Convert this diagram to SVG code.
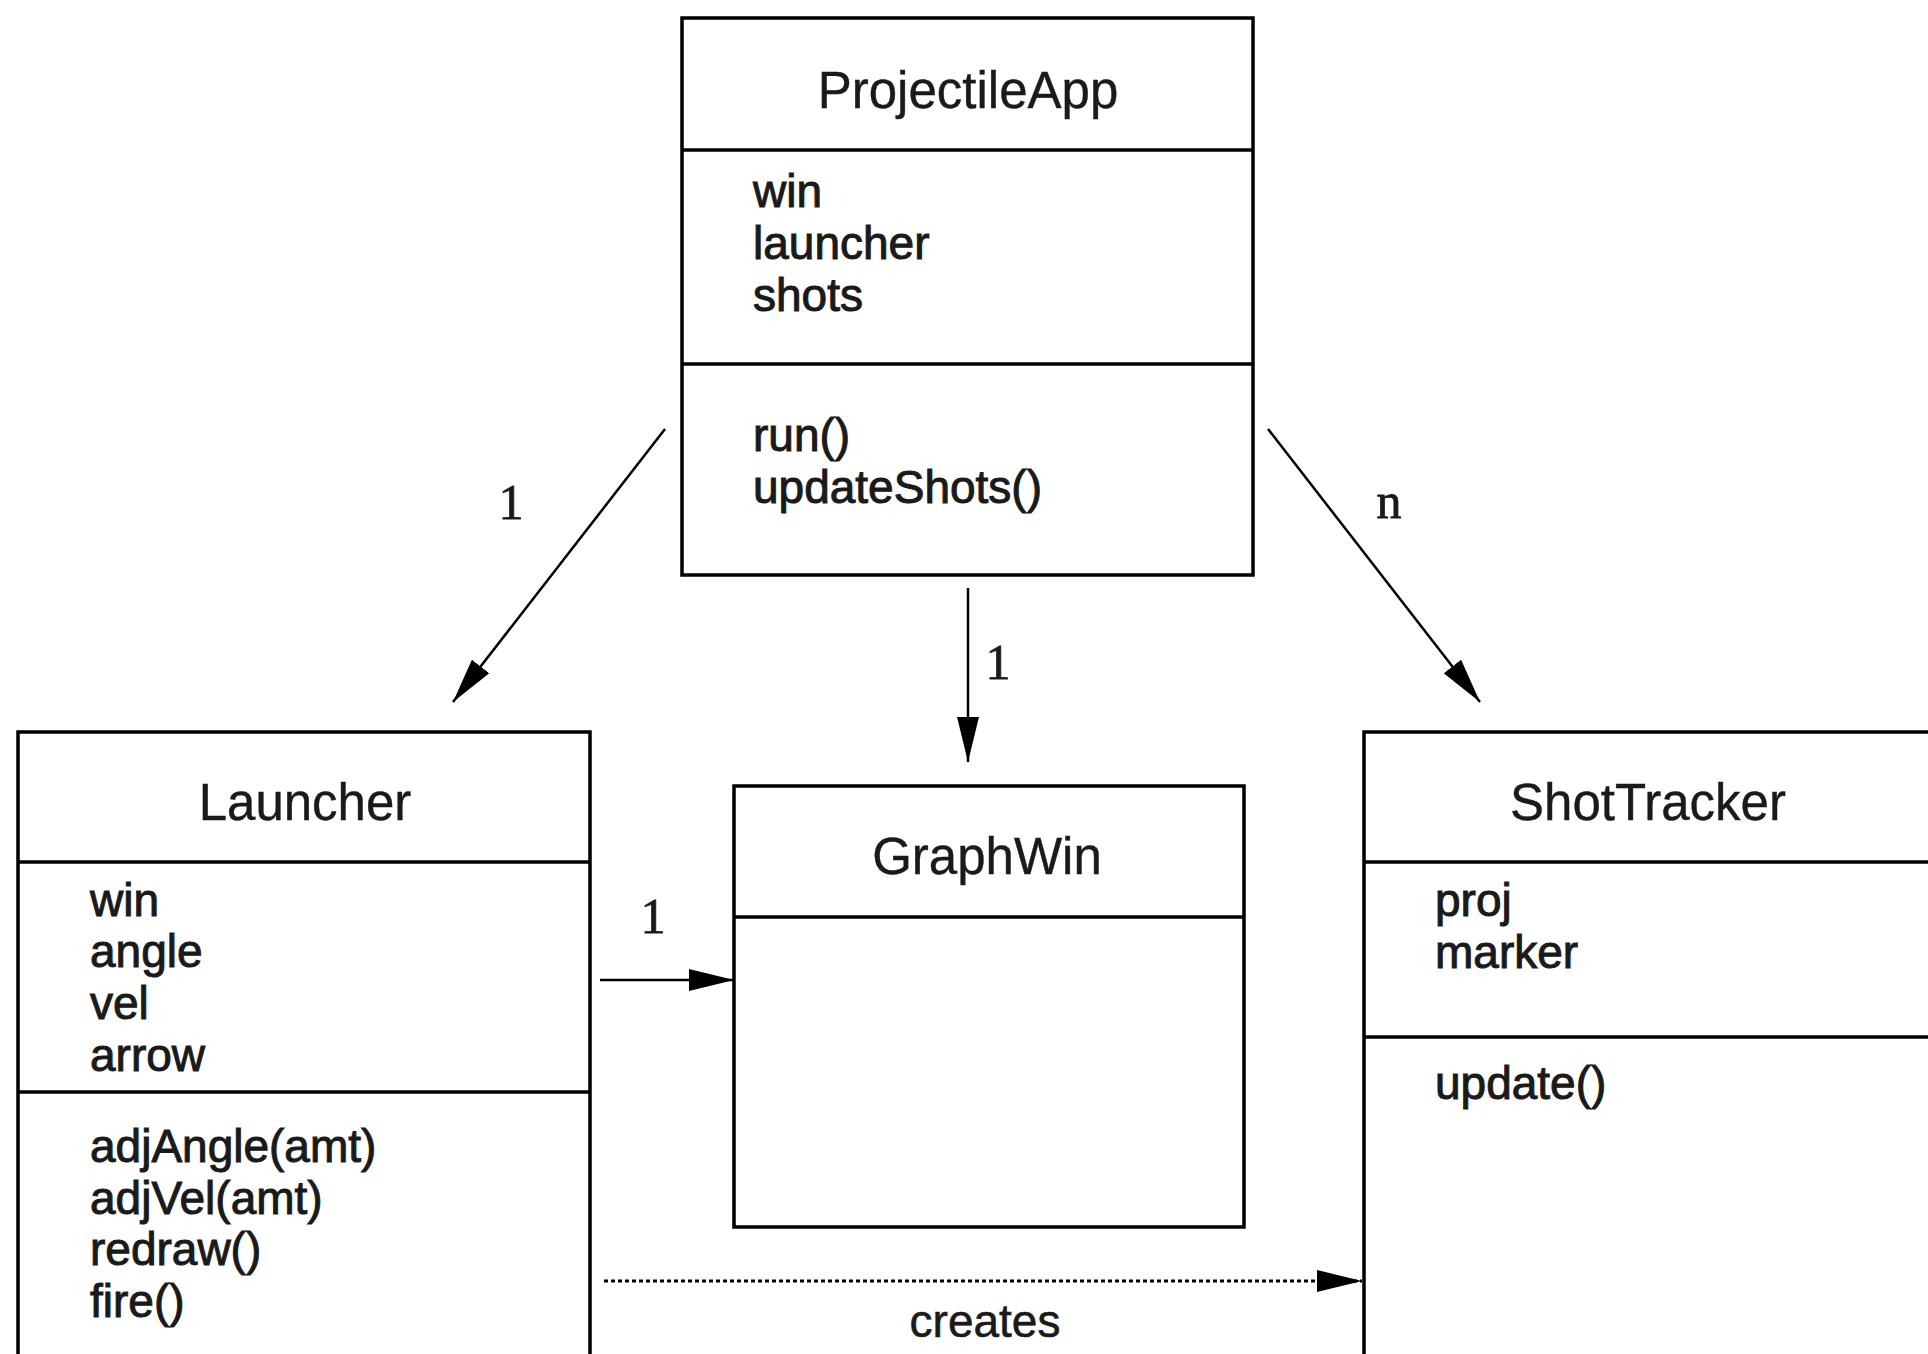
<svg xmlns="http://www.w3.org/2000/svg" width="1928" height="1354" viewBox="0 0 1928 1354">
<style>
.box{fill:none;stroke:#000;stroke-width:3.5}
.div{stroke:#000;stroke-width:3.5}
.title{font-family:"Liberation Sans",Arial,sans-serif;font-size:51px;fill:#1a1a1a;stroke:#1a1a1a;stroke-width:0.4;text-anchor:middle}
.body{font-family:"Liberation Sans",Arial,sans-serif;font-size:46px;fill:#1a1a1a;stroke:#1a1a1a;stroke-width:1}
.lbl{font-family:"Liberation Serif","Times New Roman",serif;font-size:50px;fill:#1a1a1a;stroke:#1a1a1a;stroke-width:0.8;text-anchor:middle}
.lbls{font-family:"Liberation Sans",Arial,sans-serif;font-size:46px;fill:#1a1a1a;stroke:#1a1a1a;stroke-width:0.6;text-anchor:middle}
.conn{stroke:#000;stroke-width:2.5;fill:none}
.dot{stroke:#000;stroke-width:3;fill:none;stroke-dasharray:4 3}
</style>
<defs>
<marker id="ah" markerUnits="userSpaceOnUse" markerWidth="46" markerHeight="24" refX="45" refY="11" orient="auto" viewBox="0 0 46 22">
<path d="M0,0 L45,11 L0,22 z" fill="#000"/>
</marker>
</defs>
<rect width="1928" height="1354" fill="#fff"/>
<g id="projectileapp">
<rect class="box" x="682" y="18" width="571" height="557"/>
<line class="div" x1="682" y1="150" x2="1253" y2="150"/>
<line class="div" x1="682" y1="364" x2="1253" y2="364"/>
<text class="title" x="968" y="108">ProjectileApp</text>
<text class="body" x="753" y="207">win</text>
<text class="body" x="753" y="259">launcher</text>
<text class="body" x="753" y="311">shots</text>
<text class="body" x="753" y="451">run()</text>
<text class="body" x="753" y="503">updateShots()</text>
</g>
<g id="launcher">
<rect class="box" x="18" y="732" width="572" height="700"/>
<line class="div" x1="18" y1="862" x2="590" y2="862"/>
<line class="div" x1="18" y1="1092" x2="590" y2="1092"/>
<text class="title" x="305" y="820">Launcher</text>
<text class="body" x="90" y="916">win</text>
<text class="body" x="90" y="967">angle</text>
<text class="body" x="90" y="1019">vel</text>
<text class="body" x="90" y="1071">arrow</text>
<text class="body" x="90" y="1162">adjAngle(amt)</text>
<text class="body" x="90" y="1214">adjVel(amt)</text>
<text class="body" x="90" y="1265">redraw()</text>
<text class="body" x="90" y="1317">fire()</text>
</g>
<g id="graphwin">
<rect class="box" x="734" y="786" width="510" height="441"/>
<line class="div" x1="734" y1="917" x2="1244" y2="917"/>
<text class="title" x="987" y="874">GraphWin</text>
</g>
<g id="shottracker">
<rect class="box" x="1364" y="732" width="700" height="700"/>
<line class="div" x1="1364" y1="862" x2="1940" y2="862"/>
<line class="div" x1="1364" y1="1037" x2="1940" y2="1037"/>
<text class="title" x="1648" y="820">ShotTracker</text>
<text class="body" x="1435" y="916">proj</text>
<text class="body" x="1435" y="968">marker</text>
<text class="body" x="1435" y="1099">update()</text>
</g>
<g id="connectors">
<line class="conn" x1="665" y1="429" x2="453" y2="702" marker-end="url(#ah)"/>
<line class="conn" x1="968" y1="588" x2="968" y2="762" marker-end="url(#ah)"/>
<line class="conn" x1="1268" y1="429" x2="1480" y2="702" marker-end="url(#ah)"/>
<line class="conn" x1="600" y1="980" x2="734" y2="980" marker-end="url(#ah)"/>
<line class="dot" x1="604" y1="1281" x2="1362" y2="1281" marker-end="url(#ah)"/>
<text class="lbl" x="511" y="519">1</text>
<text class="lbl" x="998" y="679">1</text>
<text class="lbl" x="1389" y="518">n</text>
<text class="lbl" x="653" y="933">1</text>
<text class="lbls" x="985" y="1337">creates</text>
</g>
</svg>
